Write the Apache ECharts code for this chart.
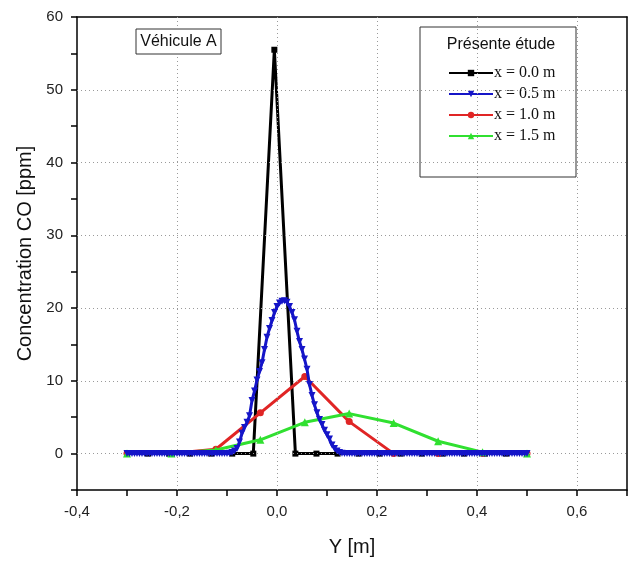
<!DOCTYPE html>
<html>
<head>
<meta charset="utf-8">
<script src="https://cdn.jsdelivr.net/npm/echarts@6/dist/echarts.min.js"></script>
<style>html,body{margin:0;padding:0;background:#fff}#c{width:633px;height:563px}</style>
</head>
<body>
<div id="c"></div>
<script>
// x = 0.0 m (black, squares)
var blackX = [-0.3, -0.2579, -0.2158, -0.1737, -0.1316, -0.0895, -0.0474, -0.0053, 0.0368, 0.0789, 0.1211, 0.1632, 0.2053, 0.2474, 0.2895, 0.3316, 0.3737, 0.4158, 0.4579, 0.5];
var blackY = [0, 0, 0, 0, 0, 0, 0, 55.5, 0, 0, 0, 0, 0, 0, 0, 0, 0, 0, 0, 0];

// x = 0.5 m (blue, triangles down), step 0.005
var blueX0 = -0.3, blueStep = 0.005;
var blueY = [
  0,0,0,0,0,0,0,0,0,0, 0,0,0,0,0,0,0,0,0,0,
  0,0,0,0,0,0,0,0,0,0, 0,0,0,0,0,0,0,0,0,0,
  0,0.05,
  0.15,0.35,0.7,1.6,2.8,3.6,4.3,5.2,7.3,8.6,
  10.1,11.3,12.5,14.3,16.0,17.2,18.3,19.4,20.2,20.7,
  20.95,21.0,20.8,20.2,19.4,18.4,16.8,15.4,14.3,13.0,
  11.6,9.5,8.0,6.7,5.6,4.7,4.0,3.2,2.6,2.0,
  1.2,0.7,0.35,0.15,0.05,
  0,0,0,0,0,0,0,0,0,0, 0,0,0,0,0,0,0,0,0,0,
  0,0,0,0,0,0,0,0,0,0, 0,0,0,0,0,0,0,0,0,0,
  0,0,0,0,0,0,0,0,0,0, 0,0,0,0,0,0,0,0,0,0,
  0,0,0,0,0,0,0,0,0,0, 0,0,0,0
];

// x = 1.0 m and x = 1.5 m share the same sample positions
var coarseX = [-0.3, -0.2111, -0.1222, -0.0333, 0.0556, 0.1444, 0.2333, 0.3222, 0.4111, 0.5];
var redY   = [0, 0, 0.6, 5.6, 10.6, 4.4, 0, 0, 0, 0];
var greenY = [0, 0, 0.5, 1.9, 4.3, 5.5, 4.2, 1.7, 0.2, 0];

var seriesNames = ['x = 0.0 m', 'x = 0.5 m', 'x = 1.0 m', 'x = 1.5 m'];
var yTickLabels = [0, 10, 20, 30, 40, 50, 60];
var xTickLabels = [-0.4, -0.2, 0.0, 0.2, 0.4, 0.6];
var yGridValues = [0, 10, 20, 30, 40, 50];
var xGridValues = [-0.2, 0, 0.2, 0.4, 0.6];

function pairs(xs, ys) { return ys.map(function (y, i) { return [xs[i], y]; }); }
var blueData = blueY.map(function (y, i) { return [+(blueX0 + i * blueStep).toFixed(3), y]; });

var chart = echarts.init(document.getElementById('c'), null, {renderer: 'canvas'});
var sans = 'Liberation Sans, Arial, sans-serif';
var serif = 'Liberation Serif, Times New Roman, serif';

var gridMarks = yGridValues.map(function (v) { return {yAxis: v}; })
  .concat(xGridValues.map(function (v) { return {xAxis: v}; }));

chart.setOption({
  animation: false,
  backgroundColor: '#fff',
  grid: {left: 77, right: 6, top: 17, bottom: 73, containLabel: false},
  xAxis: [{
    type: 'value', min: -0.4, max: 0.7, interval: 0.1,
    name: 'Y [m]', nameLocation: 'middle', nameGap: 47,
    nameTextStyle: {fontFamily: sans, fontSize: 20, color: '#111'},
    axisLine: {show: true, onZero: false, lineStyle: {color: '#000', width: 1.5}},
    axisTick: {show: true, length: 6, lineStyle: {color: '#000', width: 1.5}},
    axisLabel: {
      margin: 14, fontFamily: sans, fontSize: 15, color: '#222',
      formatter: function (v) {
        for (var i = 0; i < xTickLabels.length; i++) {
          if (Math.abs(v - xTickLabels[i]) < 1e-6) return xTickLabels[i].toFixed(1).replace('.', ',');
        }
        return '';
      }
    },
    splitLine: {show: false}
  }, {
    type: 'value', min: -0.4, max: 0.7, position: 'top',
    axisLine: {show: true, onZero: false, lineStyle: {color: '#000', width: 1.5}},
    axisTick: {show: false}, axisLabel: {show: false}, splitLine: {show: false}
  }],
  yAxis: [{
    type: 'value', min: -5, max: 60, interval: 5,
    name: 'Concentration CO [ppm]', nameLocation: 'middle', nameGap: 37,
    nameTextStyle: {fontFamily: sans, fontSize: 20, color: '#111'},
    axisLine: {show: true, onZero: false, lineStyle: {color: '#000', width: 1.5}},
    axisTick: {show: true, length: 6, lineStyle: {color: '#000', width: 1.5}},
    axisLabel: {
      margin: 14, fontFamily: sans, fontSize: 15, color: '#222',
      formatter: function (v) { return yTickLabels.indexOf(Math.round(v)) >= 0 && Math.abs(v - Math.round(v)) < 1e-6 ? String(Math.round(v)) : ''; }
    },
    splitLine: {show: false}
  }, {
    type: 'value', min: -5, max: 60, position: 'right',
    axisLine: {show: true, onZero: false, lineStyle: {color: '#000', width: 1.5}},
    axisTick: {show: false}, axisLabel: {show: false}, splitLine: {show: false}
  }],
  legend: {
    orient: 'vertical', left: 443, top: 60, itemWidth: 44, itemHeight: 8, itemGap: 5,
    textStyle: {fontFamily: serif, fontSize: 16, color: '#111', padding: [0, 0, 0, -4]},
    data: seriesNames
  },
  graphic: [
    {type: 'rect', shape: {x: 420, y: 27, width: 156, height: 150}, style: {fill: 'none', stroke: '#333', lineWidth: 1}, z: 100},
    {type: 'text', x: 501, y: 45, style: {text: 'Présente étude', font: '16px ' + sans, fill: '#111', textAlign: 'center', textVerticalAlign: 'middle'}, z: 100},
    {type: 'rect', shape: {x: 136, y: 29, width: 85, height: 25}, style: {fill: '#fff', stroke: '#333', lineWidth: 1}, z: 100},
    {type: 'text', x: 178.5, y: 42, style: {text: 'Véhicule A', font: '16px ' + sans, fill: '#111', textAlign: 'center', textVerticalAlign: 'middle'}, z: 101}
  ],
  series: [
    {
      name: 'grid', type: 'line', data: [], silent: true,
      markLine: {
        silent: true, symbol: 'none', label: {show: false},
        lineStyle: {color: '#9a9a9a', type: [1, 3], width: 1},
        data: gridMarks
      }
    },
    {
      name: seriesNames[0], type: 'line', data: pairs(blackX, blackY),
      color: '#000', symbol: 'rect', symbolSize: 6, showSymbol: true,
      lineStyle: {width: 3, color: '#000'}, itemStyle: {color: '#000'}, z: 2
    },
    {
      name: seriesNames[2], type: 'line', data: pairs(coarseX, redY),
      color: '#e02525', symbol: 'circle', symbolSize: 7, showSymbol: true,
      lineStyle: {width: 3, color: '#e02525'}, itemStyle: {color: '#e02525'}, z: 3
    },
    {
      name: seriesNames[3], type: 'line', data: pairs(coarseX, greenY),
      color: '#30e030', symbol: 'triangle', symbolSize: 8, showSymbol: true,
      lineStyle: {width: 3, color: '#30e030'}, itemStyle: {color: '#30e030'}, z: 4
    },
    {
      name: seriesNames[1], type: 'line', data: blueData,
      color: '#1515c8', symbol: 'triangle', symbolRotate: 180, symbolSize: 7, showSymbol: true,
      lineStyle: {width: 3, color: '#1515c8'}, itemStyle: {color: '#1515c8'}, z: 5
    }
  ]
});
</script>
</body>
</html>
